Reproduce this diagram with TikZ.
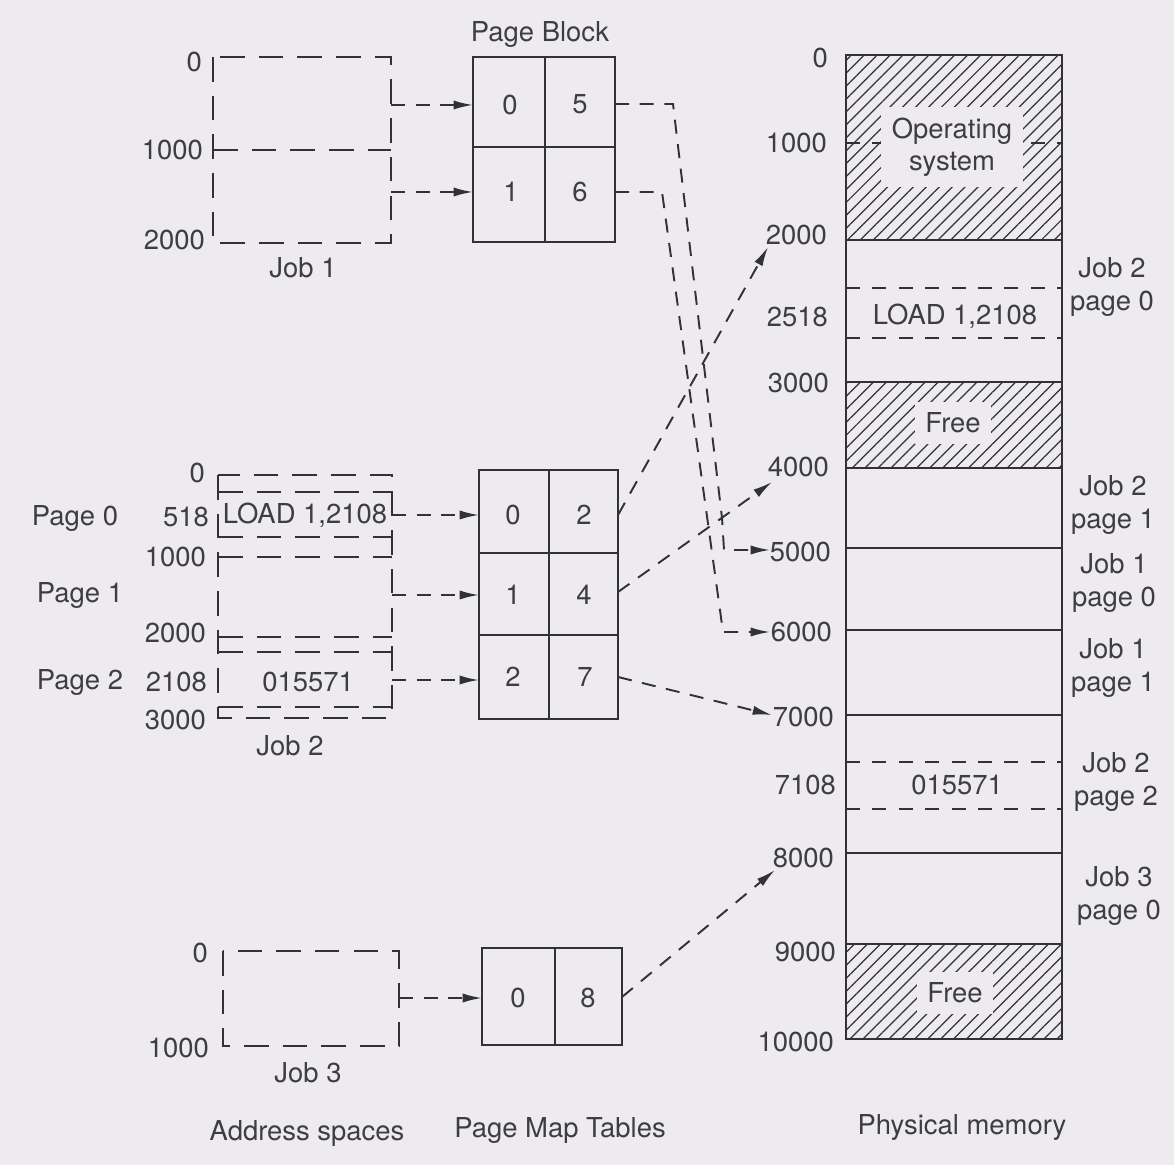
\documentclass[tikz,border=0pt]{standalone}
\usepackage{fontspec}
\setmainfont{TeX Gyre Heros}
\usetikzlibrary{arrows.meta,patterns.meta}
\definecolor{bg}{RGB}{237,235,239}
\definecolor{ink}{RGB}{50,50,50}
\definecolor{tx}{RGB}{62,62,62}
\begin{document}
\begin{tikzpicture}[x=0.01cm,y=-0.01cm,
  every node/.style={font=\fontsize{7.8}{9.2}\selectfont, text=tx, inner sep=1pt},
  solidline/.style={draw=ink, line width=0.6pt},
  boxdash/.style={draw=ink, line width=0.6pt, dash pattern=on 7pt off 4pt},
  memdash/.style={draw=ink, line width=0.5pt, dash pattern=on 4pt off 3.5pt},
  conn/.style={draw=ink, line width=0.55pt, dash pattern=on 4pt off 3pt},
  arr/.style={conn, -{Latex[length=5.5pt,width=2.6pt]}},
  hatch/.style={pattern={Lines[angle=45,distance=2.6pt,line width=0.35pt]}, pattern color=ink},
  patch/.style={fill=bg, inner sep=3pt},
  lbl/.style={anchor=east},
  pair/.style={align=center},
]
\fill[bg] (0,0) rectangle (1174,1165);
\useasboundingbox (0,0) rectangle (1174,1165);

% ---------------- Job 1 address space ----------------
\draw[boxdash] (213,57) rectangle (391,243);
\draw[boxdash] (213,150) -- (391,150);
\node[lbl] (j1l0) at (206,62) {0};
\node[lbl] (j1l1) at (207,150) {1000};
\node[lbl] (j1l2) at (209,240) {2000};
\node (j1name) at (303,268) {Job 1};
\coordinate (j1p0) at (391,105);
\coordinate (j1p1) at (391,192);

% ---------------- Page map table Job 1 ----------------
\node (pb) at (540,35) {Page Block};
\draw[solidline] (473,57) rectangle (615,242);
\draw[solidline] (545,57) -- (545,242);
\draw[solidline] (473,147) -- (615,147);
\node (t1a) at (510,105) {0};
\node (t1b) at (580,104) {5};
\node (t1c) at (511,192) {1};
\node (t1d) at (580,192) {6};
\coordinate (t1in0) at (473,105);
\coordinate (t1in1) at (473,192);
\coordinate (t1out0) at (615,104);
\coordinate (t1out1) at (615,192);
\draw[arr] (j1p0) -- (t1in0);
\draw[arr] (j1p1) -- (t1in1);

% ---------------- Job 2 address space ----------------
\draw[boxdash] (218,475) rectangle (392,718);
\foreach \yy in {492,537,557,637,652,707}
  \draw[boxdash] (218,\yy) -- (392,\yy);
\node[lbl] (j2l0) at (209,473) {0};
\node[lbl] (j2l518) at (213,517) {518};
\node[lbl] (j2l1) at (210,557) {1000};
\node[lbl] (j2l2) at (210,633) {2000};
\node[lbl] (j2l2108) at (211,682) {2108};
\node[lbl] (j2l3) at (210,720) {3000};
\node (pg0) at (75,518) {Page 0};
\node (pg1) at (80,595) {Page 1};
\node (pg2) at (80,682) {Page 2};
\node (j2name) at (290,746) {Job 2};
\node[fill=bg, inner sep=0.5pt] (j2load) at (305,515) {LOAD 1,2108};
\node (j2data) at (308,682) {015571};
\coordinate (j2p0) at (392,515);
\coordinate (j2p1) at (392,595);
\coordinate (j2p2) at (392,680);

% ---------------- Page map table Job 2 ----------------
\draw[solidline] (479,470) rectangle (618,719);
\draw[solidline] (549,470) -- (549,719);
\draw[solidline] (479,553) -- (618,553);
\draw[solidline] (479,635) -- (618,635);
\node (t2a) at (513,515) {0};
\node (t2b) at (584,515) {2};
\node (t2c) at (513,595) {1};
\node (t2d) at (584,595) {4};
\node (t2e) at (513,677) {2};
\node (t2f) at (585,677) {7};
\coordinate (t2in0) at (479,515);
\coordinate (t2in1) at (479,595);
\coordinate (t2in2) at (479,680);
\coordinate (t2out0) at (618,515);
\coordinate (t2out1) at (618,592);
\coordinate (t2out2) at (618,677);
\draw[arr] (j2p0) -- (t2in0);
\draw[arr] (j2p1) -- (t2in1);
\draw[arr] (j2p2) -- (t2in2);

% ---------------- Job 3 address space ----------------
\draw[boxdash] (223,951) rectangle (399,1046);
\node[lbl] (j3l0) at (212,953) {0};
\node[lbl] (j3l1) at (213,1048) {1000};
\node (j3name) at (308,1073) {Job 3};
\coordinate (j3p0) at (399,998);

% ---------------- Page map table Job 3 ----------------
\draw[solidline] (482,948) rectangle (622,1045);
\draw[solidline] (555,948) -- (555,1045);
\node (t3a) at (518,998) {0};
\node (t3b) at (588,998) {8};
\coordinate (t3in0) at (482,998);
\coordinate (t3out0) at (622,997);
\draw[arr] (j3p0) -- (t3in0);

% ---------------- Physical memory ----------------
\fill[hatch] (846,55) rectangle (1062,240);
\fill[hatch] (846,382) rectangle (1062,468);
\fill[hatch] (846,944) rectangle (1062,1039);
\draw[memdash] (846,143) -- (1062,143);
\foreach \yy in {288,338,762,809}
  \draw[memdash] (846,\yy) -- (1062,\yy);
\foreach \yy in {240,382,468,548,630,715,853,944}
  \draw[solidline] (846,\yy) -- (1062,\yy);
\draw[draw=ink, line width=0.75pt] (846,55) rectangle (1062,1039);
\node[patch, align=center] (os) at (952,147) {Operating\\system};
\node[patch] (free1) at (953,423) {Free};
\node[patch] (free2) at (955,993) {Free};
\node (mload) at (955,316) {LOAD 1,2108};
\node (mdata) at (957,785) {015571};

\node[lbl] (m0) at (832,58) {0};
\node[lbl] (m1000) at (831,143) {1000};
\node[lbl] (m2000) at (831,235) {2000};
\node[lbl] (m2518) at (832,317) {2518};
\node[lbl] (m3000) at (833,383) {3000};
\node[lbl] (m4000) at (833,467) {4000};
\node[lbl] (m5000) at (835,552) {5000};
\node[lbl] (m6000) at (836,632) {6000};
\node[lbl] (m7000) at (838,717) {7000};
\node[lbl] (m7108) at (840,785) {7108};
\node[lbl] (m8000) at (838,858) {8000};
\node[lbl] (m9000) at (840,952) {9000};
\node[lbl] (m10000) at (838,1042) {10000};

\node[pair] (r1) at (1112,287) {Job 2\\page 0};
\node[pair] (r2) at (1113,505) {Job 2\\page 1};
\node[pair] (r3) at (1114,583) {Job 1\\page 0};
\node[pair] (r4) at (1113,668) {Job 1\\page 1};
\node[pair] (r5) at (1116,782) {Job 2\\page 2};
\node[pair] (r6) at (1119,896) {Job 3\\page 0};

% arrow tips at physical memory
\coordinate (tip2000) at (768,247);
\coordinate (tip4000) at (772,482);
\coordinate (tip5000) at (770,550);
\coordinate (tip6000) at (770,632);
\coordinate (tip7000) at (772,715);
\coordinate (tip8000) at (775,870);
\coordinate (w5a) at (673,104);
\coordinate (w5b) at (722,518);
\coordinate (w5c) at (724,550);
\coordinate (w6a) at (662,192);
\coordinate (w6b) at (723,632);

\draw[arr] (t1out0) -- (w5a) -- (w5b) -- (w5c) -- (tip5000);
\draw[arr] (t1out1) -- (w6a) -- (w6b) -- (tip6000);
\draw[arr] (t2out0) -- (tip2000);
\draw[arr] (t2out1) -- (tip4000);
\draw[arr] (t2out2) -- (tip7000);
\draw[arr] (t3out0) -- (tip8000);

% ---------------- captions ----------------
\node (capA) at (307,1133) {Address spaces};
\node (capB) at (560,1130) {Page Map Tables};
\node (capC) at (962,1127) {Physical memory};
\end{tikzpicture}
\end{document}
